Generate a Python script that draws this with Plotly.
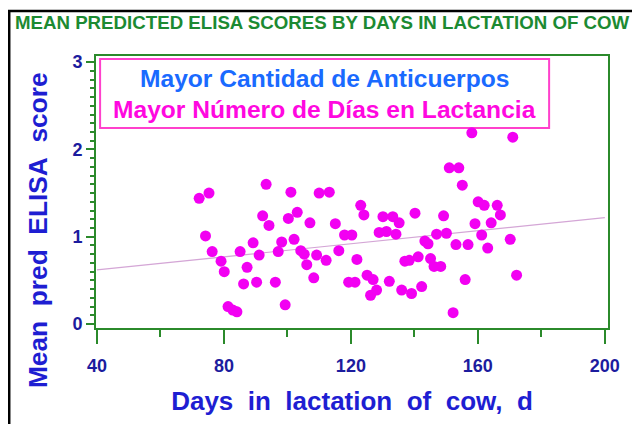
import numpy as np
import plotly.graph_objects as go

# Days in lactation (d) and mean predicted ELISA score
days = [72.2, 75.3, 74.2, 76.3, 79.1, 80.1, 81.3, 82.8, 84.1, 85.1,
        86.2, 87.3, 89.2, 90.3, 91.1, 92.2, 93.3, 94.2, 96.2, 97.1,
        98.2, 99.3, 100.3, 101.1, 102.1, 103.1, 104.2, 105.3, 106.1, 107.1,
        108.3, 109.2, 110.0, 112.2, 113.2, 115.1, 116.2, 118.0, 120.3, 119.3,
        121.3, 121.9, 123.1, 124.1, 125.1, 127.0, 126.2, 128.1, 128.9, 131.2,
        130.1, 133.2, 132.1, 134.2, 135.2, 136.0, 137.0, 138.4, 139.1, 140.2,
        141.2, 142.3, 143.3, 144.3, 145.1, 146.2, 147.0, 148.3, 149.2, 150.1,
        151.0, 152.2, 153.1, 154.0, 155.1, 156.0, 156.9, 158.1, 159.1, 160.1,
        161.2, 162.0, 163.1, 164.2, 166.1, 167.1, 170.2, 171.0, 172.2]
scores = [1.44, 1.50, 1.01, 0.83, 0.72, 0.60, 0.20, 0.16, 0.14, 0.83,
          0.46, 0.65, 0.93, 0.48, 0.79, 1.24, 1.60, 1.13, 0.48, 0.83,
          0.94, 0.22, 1.21, 1.51, 0.97, 1.28, 0.84, 0.80, 0.68, 1.16,
          0.53, 0.79, 1.50, 0.73, 1.51, 1.15, 0.84, 1.02, 1.02, 0.48,
          0.48, 0.74, 1.36, 1.25, 0.56, 0.51, 0.33, 0.39, 1.05, 1.06,
          1.23, 1.23, 0.49, 1.03, 1.16, 0.39, 0.72, 0.73, 0.35, 1.27,
          0.77, 0.43, 0.95, 0.92, 0.75, 0.66, 1.03, 0.66, 1.24, 1.04,
          1.79, 0.13, 0.91, 1.79, 1.59, 0.51, 0.91, 2.19, 1.15, 1.40,
          1.02, 1.36, 0.87, 1.16, 1.36, 1.25, 0.97, 2.14, 0.56]

# fitted trend line (intercept, slope) and the days it spans
fit_intercept = 0.47
fit_slope = 0.00375
fit_days = [40, 200]

x_ticks = [40, 80, 120, 160, 200]
y_ticks = [0, 1, 2, 3]

FONT = "Arial, 'Liberation Sans', sans-serif"
GREEN = "#2b8a2b"
TICK_BLUE = "#1c1c9e"
TITLE_BLUE = "#1e1ed2"

fit_y = [fit_intercept + fit_slope * d for d in fit_days]

fig = go.Figure()
fig.add_trace(go.Scatter(
    x=fit_days, y=fit_y, mode="lines",
    line=dict(color="#d4a6d6", width=1.2),
    hoverinfo="skip", showlegend=False,
))
fig.add_trace(go.Scatter(
    x=days, y=scores, mode="markers",
    marker=dict(color="#f200f2", size=11, line=dict(width=0)),
    showlegend=False,
))

axis_common = dict(
    showgrid=False, zeroline=False, automargin=False,
    showline=True, linecolor=GREEN, linewidth=2, mirror=True,
    ticks="outside", tickcolor=GREEN, tickwidth=2,
    tickfont=dict(family=FONT, size=18, color=TICK_BLUE, weight="bold"),
)

fig.update_xaxes(
    **axis_common,
    range=[39.7, 201], tickvals=x_ticks, ticklen=14,
    minor=dict(dtick=20, tick0=40, ticklen=7, tickcolor=GREEN, tickwidth=2, ticks="outside"),
    ticklabelstandoff=6,
    title=dict(text="Days\u00a0 in\u00a0 lactation\u00a0 of\u00a0 cow,\u00a0 d",
               font=dict(family=FONT, size=26, color=TITLE_BLUE, weight="bold"),
               standoff=17),
)
fig.update_yaxes(
    **axis_common,
    range=[-0.045, 3.07], tickvals=y_ticks, ticklen=8,
    minor=dict(dtick=0.1, tick0=0, ticklen=4, tickcolor=GREEN, tickwidth=1.5, ticks="outside"),
)

# y title sits lower than the axis centre in the original, so place it by hand
fig.add_annotation(xref="paper", yref="paper", x=-0.1133, y=0.36,
                   xanchor="center", yanchor="middle", textangle=-90,
                   text="Mean\u00a0 pred\u00a0 ELISA\u00a0 score", showarrow=False,
                   font=dict(family=FONT, size=26.3, color=TITLE_BLUE, weight="bold"))

# legend-like text box
fig.add_shape(type="rect", xref="paper", yref="paper",
              x0=0.008, x1=0.885, y0=0.735, y1=0.989,
              line=dict(color="#ff40cc", width=2), fillcolor="white", layer="below")
fig.add_annotation(xref="paper", yref="paper", x=0.447, y=0.919,
                   xanchor="center", yanchor="middle",
                   text="Mayor Cantidad de Anticuerpos", showarrow=False,
                   font=dict(family=FONT, size=24.6, color="#1a6aff", weight="bold"))
fig.add_annotation(xref="paper", yref="paper", x=0.447, y=0.805,
                   xanchor="center", yanchor="middle",
                   text="Mayor Número de Días en Lactancia", showarrow=False,
                   font=dict(family=FONT, size=24.6, color="#ff08e0", weight="bold"))

# black frame around the whole picture
fig.add_shape(type="rect", xref="paper", yref="paper",
              x0=-0.1695, x1=1.0547, y0=-0.4, y1=1.165,
              line=dict(color="black", width=2.5), fillcolor="rgba(0,0,0,0)")

fig.update_layout(
    width=632, height=416,
    margin=dict(l=88, r=32, t=48, b=96),
    paper_bgcolor="white", plot_bgcolor="white",
    title=dict(text="MEAN PREDICTED ELISA SCORES BY DAYS IN LACTATION OF COW",
               xref="container", x=0.497, xanchor="center",
               yref="container", y=0.966, yanchor="middle",
               font=dict(family=FONT, size=18.7, color="#1c8a32", weight="bold")),
)

fig.write_html("out.html")
